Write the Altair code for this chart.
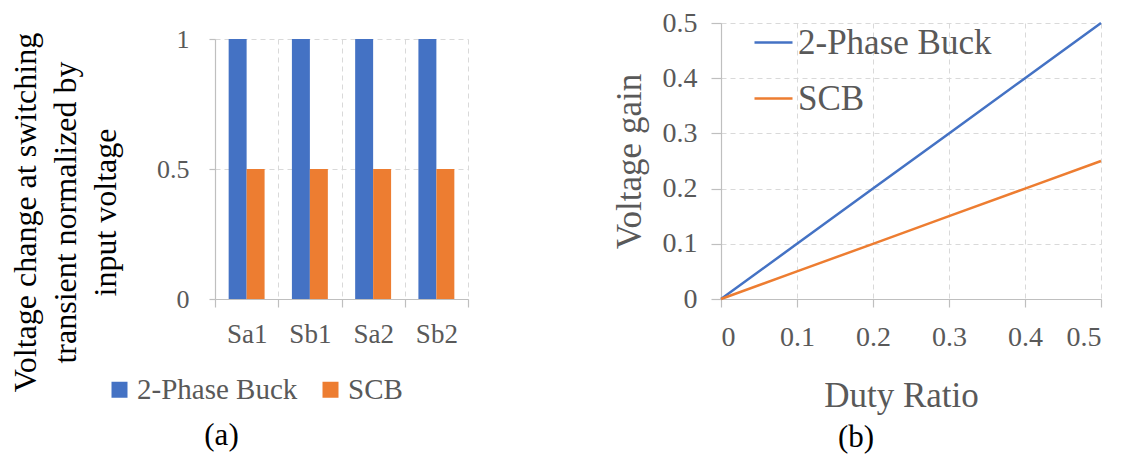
import altair as alt
import pandas as pd

# ---- data (a) ----
switches = ["Sa1", "Sb1", "Sa2", "Sb2"]
series = ["2-Phase Buck", "SCB"]
buck_change = [1, 1, 1, 1]
scb_change = [0.5, 0.5, 0.5, 0.5]

# ---- data (b) ----
duty = [0, 0.1, 0.2, 0.3, 0.4, 0.5]
buck_gain = [0, 0.1, 0.2, 0.3, 0.4, 0.5]
scb_gain = [0, 0.05, 0.1, 0.15, 0.2, 0.25]

colors = ["#4472C4", "#ED7D31"]
FONT = "Liberation Serif"
GRID = "#d9d9d9"
AXIS = "#bfbfbf"
TXT = "#595959"

bar_df = pd.DataFrame({
    "switch": switches * 2,
    "series": [series[0]] * len(switches) + [series[1]] * len(switches),
    "value": buck_change + scb_change,
})
line_df = pd.DataFrame({
    "duty": duty * 2,
    "series": [series[0]] * len(duty) + [series[1]] * len(duty),
    "gain": buck_gain + scb_gain,
})

color_scale = alt.Scale(domain=series, range=colors)

common_axis = dict(
    grid=True, gridDash=[5, 4], gridColor=GRID, gridWidth=1,
    domainColor=AXIS, domainWidth=1.2, tickColor=AXIS, tickWidth=1.2,
    labelColor=TXT, labelFont=FONT, titleFont=FONT,
)

bars = alt.Chart(bar_df).mark_bar().encode(
    x=alt.X("switch:N", sort=switches,
            scale=alt.Scale(paddingInner=0, paddingOuter=0),
            axis=alt.Axis(title=None, labelAngle=0, tickBand="extent", tickSize=8,
                          labelFontSize=27, labelPadding=14, **common_axis)),
    xOffset=alt.XOffset("series:N", sort=series,
                        scale=alt.Scale(paddingInner=0, paddingOuter=0.76)),
    y=alt.Y("value:Q", scale=alt.Scale(domain=[0, 1], nice=False),
            axis=alt.Axis(values=[0, 0.5, 1], format="~g",
                          title=["Voltage change at switching",
                                 "transient normalized by",
                                 "input voltage"],
                          titleFontSize=32, titleColor="#000000",
                          titleFontWeight="normal", titleLineHeight=40,
                          titleX=-173, titleY=173, titleAngle=270,
                          titleBaseline="bottom", titleAlign="center",
                          tickSize=6, labelPadding=20, labelFontSize=26,
                          **common_axis)),
    color=alt.Color("series:N", scale=color_scale,
                    legend=alt.Legend(title=None, orient="none", legendX=-110, legendY=352,
                                      direction="horizontal", symbolType="square",
                                      symbolSize=256, symbolStrokeWidth=0,
                                      labelFontSize=29, labelColor=TXT, labelFont=FONT,
                                      labelLimit=500, columnPadding=18, labelOffset=3,
                                      padding=0)),
).properties(
    width=253, height=260,
    title=alt.TitleParams("(a)", orient="bottom", anchor="middle", frame="group",
                          dx=-120, offset=29, fontSize=31, font=FONT,
                          fontWeight="normal", color="#000000"),
)

spacer = alt.Chart(pd.DataFrame({"s": [0]})).mark_point(opacity=0).encode(
    x=alt.value(0), y=alt.value(0)
).properties(width=253, height=16)

left = alt.vconcat(spacer, bars, spacing=0, bounds="flush")

lines = alt.Chart(line_df).mark_line(strokeWidth=2.5).encode(
    x=alt.X("duty:Q", scale=alt.Scale(domain=[0, 0.5], nice=False),
            axis=alt.Axis(values=duty, format="~g", title="Duty Ratio",
                          titleFontSize=35, titleColor=TXT,
                          titleFontWeight="normal", titlePadding=27,
                          titleX=180, titleAlign="center",
                          tickSize=8, labelFontSize=28, labelPadding=16,
                          **common_axis)),
    y=alt.Y("gain:Q", scale=alt.Scale(domain=[0, 0.5], nice=False),
            axis=alt.Axis(values=[0, 0.1, 0.2, 0.3, 0.4, 0.5], format="~g",
                          title="Voltage gain", titleFontSize=35, titleColor=TXT,
                          titleFontWeight="normal", titlePadding=15,
                          tickSize=10, labelFontSize=28, labelPadding=14,
                          **common_axis)),
    color=alt.Color("series:N", scale=color_scale,
                    legend=alt.Legend(title=None, orient="none", legendX=32, legendY=-1,
                                      direction="vertical", symbolType="stroke",
                                      symbolSize=1444, symbolStrokeWidth=2.5,
                                      labelFontSize=35, labelColor=TXT, labelFont=FONT,
                                      labelLimit=500, rowPadding=17, labelOffset=4,
                                      padding=0)),
).properties(
    width=380, height=276,
    title=alt.TitleParams("(b)", orient="bottom", anchor="middle", frame="group",
                          dx=-55, offset=10, fontSize=31, font=FONT,
                          fontWeight="normal", color="#000000"),
)

chart = alt.hconcat(left, lines, spacing=141).resolve_scale(
    color="independent"
).resolve_legend(color="independent").properties(
    padding=0
).configure(font=FONT).configure_view(stroke="transparent")

chart.save("out.html", embed_options={"renderer": "svg", "actions": False})
